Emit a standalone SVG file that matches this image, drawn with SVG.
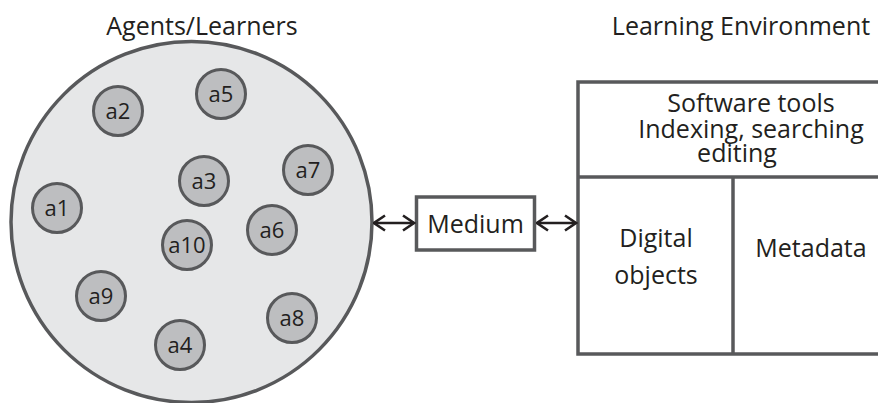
<svg xmlns="http://www.w3.org/2000/svg" width="878" height="403" viewBox="0 0 878 403">
  <style>
    text { font-family: "Open Sans", "Liberation Sans", sans-serif; fill: #231f20; text-anchor: middle; }
    .title { font-size: 25px; }
    .label { font-size: 25px; }
    .agent circle { fill: #bdbec0; stroke: #58595b; stroke-width: 3; }
    .agent text { font-size: 22px; }
    .box { fill: #ffffff; stroke: #58595b; stroke-width: 3.5; }
    .conn { stroke: #231f20; stroke-width: 2.4; fill: none; }
  </style>
  <defs>
    <marker id="chev" viewBox="0 0 14 18" refX="12.5" refY="9" markerWidth="14" markerHeight="18" markerUnits="userSpaceOnUse" orient="auto-start-reverse">
      <path d="M1.5 1.5 L12.5 9 L1.5 16.5" fill="none" stroke="#231f20" stroke-width="2.6"/>
    </marker>
  </defs>

  <rect width="878" height="403" fill="#ffffff"/>

  <!-- Agents / learners population -->
  <g id="agents">
    <text class="title" x="202" y="35">Agents/Learners</text>
    <circle cx="191.5" cy="222" r="180.5" fill="#e6e7e8" stroke="#58595b" stroke-width="3.5"/>
  </g>
  <g id="a1" class="agent"><circle cx="57" cy="208" r="24.5"/><text x="57" y="216">a1</text></g>
  <g id="a2" class="agent"><circle cx="118" cy="111" r="24.5"/><text x="118" y="119">a2</text></g>
  <g id="a3" class="agent"><circle cx="204" cy="181" r="24.5"/><text x="204" y="189">a3</text></g>
  <g id="a4" class="agent"><circle cx="180" cy="345" r="24.5"/><text x="180" y="353">a4</text></g>
  <g id="a5" class="agent"><circle cx="221" cy="94" r="24.5"/><text x="221" y="102">a5</text></g>
  <g id="a6" class="agent"><circle cx="272" cy="230" r="24.5"/><text x="272" y="238">a6</text></g>
  <g id="a7" class="agent"><circle cx="308" cy="170" r="24.5"/><text x="308" y="178">a7</text></g>
  <g id="a8" class="agent"><circle cx="292" cy="318" r="24.5"/><text x="292" y="326">a8</text></g>
  <g id="a9" class="agent"><circle cx="101" cy="296" r="24.5"/><text x="101" y="304">a9</text></g>
  <g id="a10" class="agent"><circle cx="187" cy="245" r="24.5"/><text x="187" y="253">a10</text></g>

  <!-- Medium -->
  <g id="medium">
    <rect class="box" x="416.5" y="197" width="118" height="53"/>
    <text class="label" x="475.5" y="233">Medium</text>
  </g>

  <!-- Learning environment -->
  <g id="environment">
    <text class="title" x="741" y="35">Learning Environment</text>
    <rect class="box" x="578" y="82" width="310" height="272"/>
    <line x1="578" y1="177" x2="878" y2="177" stroke="#58595b" stroke-width="3.5"/>
    <line x1="733" y1="177" x2="733" y2="354" stroke="#58595b" stroke-width="3.5"/>
  </g>
  <g id="software-tools">
    <text class="label" x="751" y="112">Software tools</text>
    <text class="label" x="751" y="138">Indexing, searching</text>
    <text class="label" x="737" y="162">editing</text>
  </g>
  <g id="digital-objects">
    <text class="label" x="656" y="247">Digital</text>
    <text class="label" x="656" y="284">objects</text>
  </g>
  <g id="metadata">
    <text class="label" x="811" y="257">Metadata</text>
  </g>

  <!-- Connectors -->
  <g id="connectors">
    <line class="conn" x1="374" y1="223" x2="414" y2="223" marker-start="url(#chev)" marker-end="url(#chev)"/>
    <line class="conn" x1="537" y1="223" x2="576" y2="223" marker-start="url(#chev)" marker-end="url(#chev)"/>
  </g>
</svg>
